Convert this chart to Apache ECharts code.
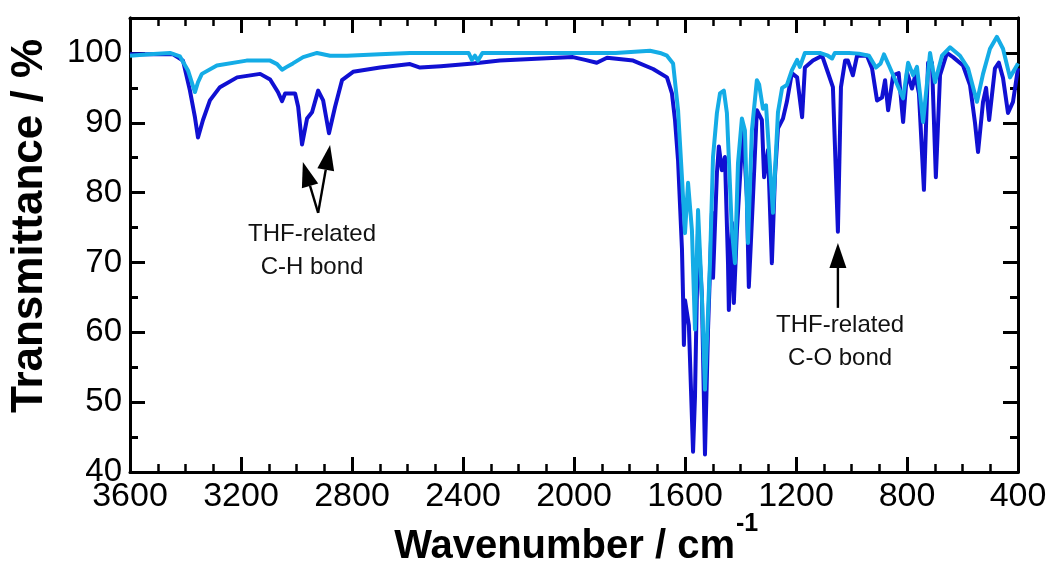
<!DOCTYPE html>
<html>
<head>
<meta charset="utf-8">
<script src="https://cdn.jsdelivr.net/npm/echarts@6/dist/echarts.min.js"></script>
<style>
  html, body { margin: 0; padding: 0; background: #ffffff; }
  #chart { width: 1053px; height: 581px; }
</style>
</head>
<body>
<div id="chart"></div>
<script>
// FTIR spectra: transmittance (%) against wavenumber (cm-1)
const darkWn = [3600, 3445, 3409, 3384, 3366, 3355, 3337, 3312, 3276, 3214, 3131, 3095, 3067, 3052, 3041, 3005,
  2994, 2980, 2962, 2944, 2922, 2904, 2883, 2861, 2836, 2796, 2699, 2591, 2555, 2480, 2364, 2267, 2004, 1960,
  1918, 1881, 1787, 1715, 1665, 1647, 1636, 1625, 1611, 1607, 1604, 1600, 1593, 1586, 1571, 1564, 1553, 1539,
  1528, 1517, 1503, 1499, 1485, 1478, 1467, 1456, 1445, 1442, 1431, 1424, 1413, 1391, 1377, 1370, 1355, 1341,
  1323, 1315, 1301, 1287, 1276, 1265, 1247, 1233, 1215, 1196, 1178, 1168, 1139, 1106, 1085, 1067, 1049, 1038,
  1023, 1013, 995, 980, 944, 926, 908, 890, 879, 868, 850, 830, 814, 800, 782, 770, 757, 739, 724, 710, 696,
  681, 656, 634, 598, 573, 555, 544, 526, 515, 504, 483, 469, 454, 436, 418, 400];
const darkT = [99.8, 99.8, 98.9, 94.6, 90.8, 87.9, 90.4, 93.2, 95.1, 96.5, 97.0, 96.2, 94.4, 93.1, 94.2, 94.2,
  92.3, 86.9, 90.6, 91.5, 94.6, 93.2, 88.5, 92.3, 96.1, 97.3, 97.9, 98.4, 97.9, 98.1, 98.5, 98.9, 99.4, 99.0,
  98.6, 99.3, 98.9, 97.7, 96.5, 94.2, 90.4, 84.6, 72.0, 65.1, 58.2, 64.6, 64.6, 61.0, 42.9, 50.8, 74.6, 65.1,
  42.5, 60.4, 77.1, 67.8, 82.8, 86.6, 83.2, 85.1, 69.9, 63.2, 75.7, 64.2, 74.6, 89.4, 79.4, 66.5, 79.4, 91.8,
  90.4, 82.2, 86.1, 69.9, 82.2, 89.2, 90.6, 93.0, 97.1, 96.5, 90.8, 97.9, 98.9, 99.6, 97.2, 95.1, 74.4, 95.1,
  98.9, 98.9, 96.8, 99.6, 99.6, 97.8, 93.2, 93.6, 96.1, 91.8, 96.8, 97.1, 90.1, 97.2, 94.9, 96.8, 94.2, 80.4,
  98.6, 98.6, 82.2, 96.8, 100.0, 99.4, 98.2, 95.4, 90.0, 85.8, 93.0, 95.0, 90.4, 97.8, 98.6, 96.4, 91.4, 93.0, 97.8];

const lightWn = [3600, 3530, 3456, 3420, 3391, 3375, 3366, 3355, 3341, 3287, 3180, 3095, 3070, 3052, 3035, 3013,
  2976, 2926, 2879, 2818, 2700, 2591, 2450, 2380, 2368, 2357, 2346, 2330, 2200, 2000, 1850, 1726, 1690, 1665,
  1643, 1625, 1611, 1600, 1589, 1575, 1564, 1553, 1539, 1528, 1510, 1499, 1485, 1474, 1460, 1449, 1431, 1420,
  1409, 1395, 1384, 1373, 1359, 1341, 1333, 1319, 1308, 1283, 1265, 1250, 1233, 1215, 1196, 1186, 1168, 1114,
  1085, 1070, 1060, 1009, 973, 937, 912, 895, 883, 865, 814, 796, 778, 764, 742, 717, 699, 674, 645, 609, 580,
  548, 526, 501, 476, 454, 429, 404, 400];
const lightT = [99.6, 99.8, 100.0, 99.5, 97.5, 95.5, 94.4, 95.8, 97.0, 98.2, 98.9, 98.9, 98.4, 97.6, 98.0, 98.5,
  99.4, 100.0, 99.6, 99.6, 99.8, 100.0, 100.0, 100.0, 99.0, 99.6, 98.9, 100.0, 100.0, 100.0, 100.0, 100.3, 100.0, 99.6,
  98.5, 91.8, 82.2, 74.2, 81.4, 74.6, 60.4, 77.5, 65.1, 51.8, 69.9, 85.1, 91.4, 94.2, 94.6, 91.4, 74.6, 69.9,
  84.2, 90.6, 88.9, 72.8, 88.9, 96.1, 95.5, 92.0, 92.5, 77.1, 91.5, 95.0, 95.4, 97.5, 99.0, 98.0, 100.0, 100.0,
  99.6, 99.2, 100.0, 100.0, 99.9, 99.6, 97.9, 98.5, 99.8, 98.2, 93.5, 98.6, 96.8, 98.0, 90.1, 100.0, 95.8, 99.6,
  100.8, 99.6, 97.8, 93.0, 97.0, 100.6, 102.3, 100.6, 96.5, 98.2, 98.5];

// axis ranges and tick steps
const xRange = [400, 3600];
const xStep = 400;
const yRange = [40, 105];
const yStep = 10;
const yMinorStep = 5;

// annotation arrows (tail -> tip) and their captions, in data units
const chArrows = [[[2922, 77.1], [2977, 84.4]], [[2922, 77.1], [2879, 86.8]]];
const chCaption = { at: [2944, 71.6], text: 'THF-related\nC-H bond' };
const coArrows = [[[1049, 63.5], [1049, 72.8]]];
const coCaption = { at: [1041, 58.7], text: 'THF-related\nC-O bond' };

const FONT = "'Liberation Sans', Arial, Helvetica, sans-serif";
const DARK = '#1010d2';
const LIGHT = '#14ace6';

const chart = echarts.init(document.getElementById('chart'), null, { renderer: 'canvas' });

function xAxisDef(position, showLabel) {
  return {
    type: 'value', position: position, min: xRange[0], max: xRange[1], interval: xStep, inverse: true,
    axisLine: { show: true, onZero: false, lineStyle: { color: '#000', width: 3 } },
    axisTick: { show: true, inside: true, length: 15, lineStyle: { color: '#000', width: 3 } },
    minorTick: { show: true, splitNumber: 4, length: 8, lineStyle: { color: '#000', width: 2.5 } },
    axisLabel: { show: showLabel, fontFamily: FONT, fontSize: 34, color: '#000', margin: 8,
      formatter: v => String(v) },
    splitLine: { show: false }, minorSplitLine: { show: false }
  };
}
function yAxisDef(position, step, tickLen, showLabel) {
  return {
    type: 'value', position: position, min: yRange[0], max: yRange[1], interval: step,
    axisLine: { show: true, onZero: false, lineStyle: { color: '#000', width: 3 } },
    axisTick: { show: true, inside: true, length: tickLen, lineStyle: { color: '#000', width: 3 } },
    axisLabel: {
      show: showLabel, fontFamily: FONT, fontSize: 33, color: '#000', margin: 8,
      formatter: v => (v <= 100 ? String(v) : '')
    },
    splitLine: { show: false }
  };
}

const toPairs = (xs, ys) => xs.map((x, i) => [x, ys[i]]);

chart.setOption({
  animation: false,
  backgroundColor: '#ffffff',
  grid: { left: 130, right: 35, top: 18, bottom: 109, containLabel: false },
  xAxis: [xAxisDef('bottom', true), xAxisDef('top', false)],
  yAxis: [
    yAxisDef('left', yStep, 15, true),
    yAxisDef('left', yMinorStep, 8, false),
    yAxisDef('right', yStep, 15, false),
    yAxisDef('right', yMinorStep, 8, false)
  ],
  series: [
    {
      name: 'dark', type: 'line', xAxisIndex: 0, yAxisIndex: 0, showSymbol: false, smooth: false,
      data: toPairs(darkWn, darkT), lineStyle: { color: DARK, width: 4, join: 'round' }, z: 2
    },
    {
      name: 'light', type: 'line', xAxisIndex: 0, yAxisIndex: 0, showSymbol: false, smooth: false,
      data: toPairs(lightWn, lightT), lineStyle: { color: LIGHT, width: 4, join: 'round' }, z: 3
    }
  ]
});

// arrows and captions, placed through the grid's coordinate system
const px = p => chart.convertToPixel({ gridIndex: 0 }, p);
function arrowShapes(tail, tip) {
  const a = px(tail), b = px(tip);
  const dx = b[0] - a[0], dy = b[1] - a[1];
  const len = Math.hypot(dx, dy);
  const ux = dx / len, uy = dy / len;
  const headLen = 25, headHalf = 8.5;
  const base = [b[0] - ux * headLen, b[1] - uy * headLen];
  return [
    { type: 'line', shape: { x1: a[0], y1: a[1], x2: base[0], y2: base[1] },
      style: { stroke: '#000', lineWidth: 2.4 }, z: 10 },
    { type: 'polygon', shape: { points: [b,
        [base[0] - uy * headHalf, base[1] + ux * headHalf],
        [base[0] + uy * headHalf, base[1] - ux * headHalf]] },
      style: { fill: '#000' }, z: 10 }
  ];
}
function caption(c) {
  const p = px(c.at);
  return { type: 'text', x: p[0], y: p[1], z: 10,
    style: { text: c.text, fontFamily: FONT, fontSize: 24, lineHeight: 33, fill: '#111',
      align: 'center', verticalAlign: 'middle' } };
}

const graphics = [];
chArrows.concat(coArrows).forEach(ar => graphics.push(...arrowShapes(ar[0], ar[1])));
graphics.push(caption(chCaption), caption(coCaption));

// axis titles
graphics.push({
  type: 'text', x: 30, y: 226, rotation: Math.PI / 2, z: 10,
  style: { text: 'Transmittance / %', fontFamily: FONT, fontWeight: 'bold', fontSize: 44, fill: '#000',
    align: 'center', verticalAlign: 'middle' }
});
graphics.push({
  type: 'text', x: 735, y: 547, z: 10,
  style: { text: 'Wavenumber / cm', fontFamily: FONT, fontWeight: 'bold', fontSize: 40, fill: '#000',
    align: 'right', verticalAlign: 'middle' }
});
graphics.push({
  type: 'text', x: 736, y: 524, z: 10,
  style: { text: '-1', fontFamily: FONT, fontWeight: 'bold', fontSize: 25, fill: '#000',
    align: 'left', verticalAlign: 'middle' }
});

chart.setOption({ graphic: graphics });
</script>
</body>
</html>
